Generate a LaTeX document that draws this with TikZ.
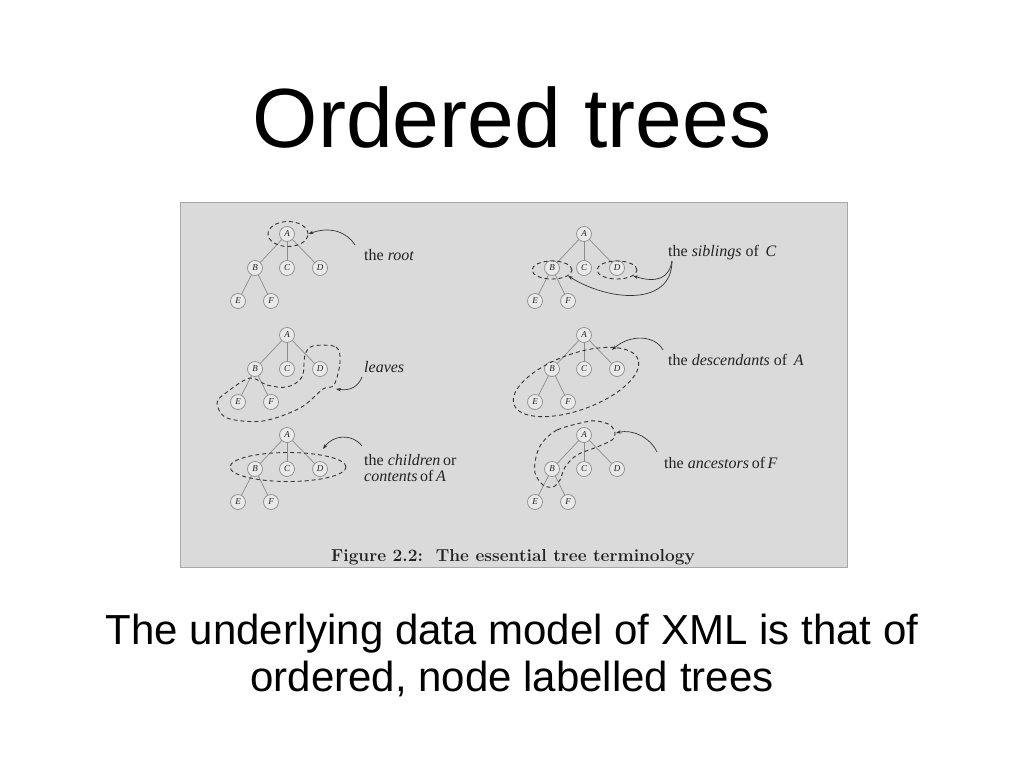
\documentclass[tikz,border=0pt]{standalone}
\usepackage{fontspec}
\usetikzlibrary{shapes.geometric,arrows.meta}
\newfontfamily\arialf{Liberation Sans}
\newfontfamily\tmsf{Liberation Serif}
\definecolor{figbg}{HTML}{DADADA}
\definecolor{figframe}{HTML}{A8A8A8}
\definecolor{nodeline}{HTML}{8C8C8C}
\definecolor{ink}{HTML}{222222}
\definecolor{dash}{HTML}{333333}
\tikzset{
  tn/.style={circle,draw=nodeline,fill=figbg!60!white,line width=0.7pt,minimum size=15pt,inner sep=0pt,
     font=\tmsf\itshape\fontsize{9}{9}\selectfont,text=ink},
  te/.style={draw=nodeline,line width=0.7pt},
  dsh/.style={draw=dash,line width=0.9pt,dash pattern=on 4pt off 3pt},
  lab/.style={anchor=base west,inner sep=0pt,font=\tmsf\fontsize{16}{18}\selectfont,text=ink},
  arr/.style={draw=dash,line width=0.7pt,-{Stealth[length=5pt,width=3.5pt]}},
}
\newcommand{\drawtree}[3]{%
  \node[tn] (#1A) at (#2,#3) {A};
  \node[tn] (#1B) at (#2-32,#3+34) {B};
  \node[tn] (#1C) at (#2,#3+34) {C};
  \node[tn] (#1D) at (#2+33,#3+34) {D};
  \node[tn] (#1E) at (#2-49,#3+67) {E};
  \node[tn] (#1F) at (#2-16,#3+67) {F};
  \draw[te] (#1A) -- (#1B);
  \draw[te] (#1A) -- (#1C);
  \draw[te] (#1A) -- (#1D);
  \draw[te] (#1B) -- (#1E);
  \draw[te] (#1B) -- (#1F);
}
\begin{document}
\begin{tikzpicture}[x=1pt,y=-1pt]
\useasboundingbox (0,0) rectangle (1024,768);
\fill[white] (0,0) rectangle (1024,768);
% title
\node[anchor=base,inner sep=0pt,font=\arialf\fontsize{84}{100}\selectfont] (title) at (512,147) {Ordered trees};
% figure panel
\node[draw=figframe,fill=figbg,line width=0.8pt,minimum width=667pt,minimum height=365pt,inner sep=0pt,anchor=north west] (fig) at (180,202) {};
% trees
\drawtree{p}{287}{234}
\drawtree{q}{584}{234}
\drawtree{r}{287}{335}
\drawtree{s}{584}{335}
\drawtree{t}{287}{435}
\drawtree{u}{584}{435}
% panel 1: root
\node[ellipse,dsh,minimum width=40pt,minimum height=25pt,inner sep=0pt] (rootel) at (288,234) {};
\node[lab] (rootlab) at (364,260) {the \textit{root}};
\coordinate (rootst) at (355,245);
\draw[arr] (rootst) .. controls (347,232) and (330,226) .. (rootel.east);
% panel 2: siblings
\node[ellipse,dsh,minimum width=40pt,minimum height=18pt,inner sep=0pt] (sibB) at (552,270) {};
\node[ellipse,dsh,minimum width=40pt,minimum height=18pt,inner sep=0pt] (sibD) at (617,270) {};
\node[lab] (siblab) at (668,256) {the \textit{siblings} of\, \textit{C}};
\coordinate (sibst) at (672,261);
\draw[arr] (sibst) .. controls (669,279) and (656,283) .. (sibD.-20);
\draw[arr] (sibst) .. controls (672,306) and (610,302) .. (sibB.-20);
% panel 3: leaves
\draw[dsh] plot[smooth cycle,tension=0.55] coordinates {(313,346) (336,347) (340,362) (334,385) (323,389) (300,408) (263,421) (227,418) (217,403) (227,392) (250,378) (267,385) (287,387) (302,377) (305,355)};
\node[lab] (leaflab) at (364,372) {\textit{leaves}};
\coordinate (leafst) at (362,377);
\coordinate (leafend) at (336,389);
\draw[arr] (leafst) .. controls (358,387) and (350,391) .. (leafend);
% panel 4: descendants
\node[ellipse,dsh,minimum width=132pt,minimum height=56pt,inner sep=0pt,rotate=20] (descel) at (576,382) {};
\node[lab] (desclab) at (668,365) {the \textit{descendants} of\, \textit{A}};
\coordinate (descst) at (663,350);
\coordinate (descend) at (612,350);
\draw[arr] (descst) .. controls (655,335) and (630,334) .. (descend);
% panel 5: children
\node[ellipse,dsh,minimum width=116pt,minimum height=29pt,inner sep=0pt] (chel) at (288,467) {};
\node[lab] (chlab1) at (364,465) {the \textit{children}\,or};
\node[lab] (chlab2) at (364,481) {\textit{contents}\,of\,\textit{A}};
\coordinate (chst) at (362,446);
\coordinate (chend) at (323,449);
\draw[arr] (chst) .. controls (352,433) and (333,435) .. (chend);
% panel 6: ancestors
\draw[dsh] plot[smooth cycle,tension=0.55] coordinates {(585,422) (557,430) (542,443) (536,457) (535,473) (543,485) (553,487) (560,480) (565,467) (577,455) (597,447) (612,440) (615,433) (610,425) (597,421)};
\node[lab] (anclab) at (664,468) {the \textit{ancestors}\,of\,\textit{F}};
\coordinate (ancst) at (657,452);
\coordinate (ancend) at (616,433);
\draw[arr] (ancst) .. controls (650,437) and (632,429) .. (ancend);
% caption
\node[anchor=base,inner sep=0pt,font=\fontsize{17.3}{20}\selectfont\bfseries,text=ink] (cap) at (513,561) {Figure 2.2:\ \ The essential tree terminology};
% bottom text
\node[anchor=base,inner sep=0pt,font=\arialf\fontsize{42}{47}\selectfont] (line1) at (512,644) {The underlying data model of XML is that of};
\node[anchor=base,inner sep=0pt,font=\arialf\fontsize{42}{47}\selectfont] (line2) at (512,691) {ordered, node labelled trees};
\end{tikzpicture}
\end{document}
